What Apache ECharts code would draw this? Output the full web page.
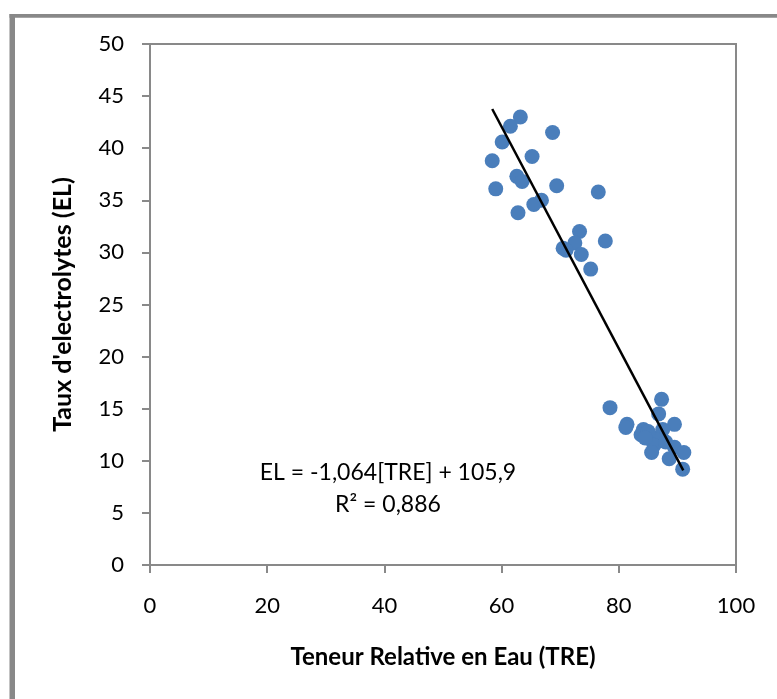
<!DOCTYPE html>
<html>
<head>
<meta charset="utf-8">
<script src="https://cdn.jsdelivr.net/npm/echarts@6/dist/echarts.min.js"></script>
<style>
html,body{margin:0;padding:0;background:#fff;}
#chart{width:777px;height:699px;}
</style>
</head>
<body>
<div id="chart"></div>
<script>
// TRE (x) values
var treValues = [63.2, 61.5, 68.7, 60.1, 58.4, 65.2, 62.6, 63.5, 59.0, 69.4, 76.5, 66.8, 65.5, 62.8, 73.3, 72.5, 77.7, 70.5, 71.0, 73.6, 75.2,
  78.5, 87.3, 86.8, 81.4, 81.2, 89.5, 84.2, 83.8, 85.6, 87.5, 86.5, 85.0, 86.0, 85.6, 89.5, 88.0, 91.1, 88.6, 90.9, 84.5];
// EL (y) values
var elValues = [43.0, 42.1, 41.5, 40.6, 38.8, 39.2, 37.3, 36.8, 36.1, 36.4, 35.8, 35.0, 34.6, 33.8, 32.0, 30.9, 31.1, 30.4, 30.2, 29.8, 28.4,
  15.1, 15.9, 14.5, 13.5, 13.2, 13.5, 13.0, 12.5, 12.3, 13.0, 12.0, 12.8, 11.5, 10.8, 11.3, 11.8, 10.8, 10.2, 9.2, 12.2];
// Regression
var slope = -1.064;
var intercept = 105.9;
var trendRange = [58.4, 91.0];
var equationLines = ["EL = -1,064[TRE] + 105,9", "R\u00b2 = 0,886"];
var xTicks = [0, 20, 40, 60, 80, 100];
var yTicks = [0, 5, 10, 15, 20, 25, 30, 35, 40, 45, 50];
var xTitle = "Teneur Relative en Eau (TRE)";
var yTitle = "Taux d'electrolytes (EL)";

var points = treValues.map(function(x, i){ return [x, elValues[i]]; });
var trend = trendRange.map(function(x){ return [x, slope * x + intercept]; });

var FONT = 'Lato';
var chart = echarts.init(document.getElementById('chart'), null, {renderer: 'canvas'});
chart.setOption({
  animation: false,
  backgroundColor: '#fff',
  grid: {left: 150, top: 44, right: 41, bottom: 134, show: true, borderColor: '#898989', borderWidth: 2, backgroundColor: 'transparent'},
  xAxis: {
    type: 'value', min: xTicks[0], max: xTicks[xTicks.length-1], interval: 20,
    name: xTitle, nameLocation: 'middle', nameGap: 80,
    nameTextStyle: {fontFamily: FONT, fontWeight: 'bold', fontSize: 24, color: '#000'},
    axisLine: {show: true, lineStyle: {color: '#898989', width: 2}},
    axisTick: {show: true, inside: false, length: 8, lineStyle: {color: '#898989', width: 2}},
    axisLabel: {fontFamily: FONT, fontSize: 22, color: '#000', margin: 30},
    splitLine: {show: false}
  },
  yAxis: {
    type: 'value', min: yTicks[0], max: yTicks[yTicks.length-1], interval: 5,
    name: yTitle, nameLocation: 'middle', nameGap: 75, nameRotate: 90,
    nameTextStyle: {fontFamily: FONT, fontWeight: 'bold', fontSize: 25, color: '#000'},
    axisLine: {show: true, lineStyle: {color: '#898989', width: 2}},
    axisTick: {show: true, inside: false, length: 8, lineStyle: {color: '#898989', width: 2}},
    axisLabel: {fontFamily: FONT, fontSize: 22, color: '#000', margin: 26},
    splitLine: {show: false}
  },
  series: [
    {type: 'scatter', data: points, symbol: 'circle', symbolSize: 15,
     itemStyle: {color: '#4A7EBB', opacity: 1}, z: 2},
    {type: 'line', data: trend, showSymbol: false, symbol: 'none',
     lineStyle: {color: '#000', width: 2.5}, z: 3, silent: true}
  ],
  graphic: [
    {type: 'rect', shape: {x: 9.5, y: 14, width: 5.5, height: 700}, style: {fill: '#888'}, silent: true, z: 100},
    {type: 'rect', shape: {x: 9.5, y: 14, width: 800, height: 3.7}, style: {fill: '#888'}, silent: true, z: 100},
    {type: 'text', x: 388, y: 473, style: {text: equationLines[0], fontFamily: FONT, fontSize: 23, fill: '#000', align: 'center', verticalAlign: 'middle'}, z: 100},
    {type: 'text', x: 388, y: 505, style: {text: equationLines[1], fontFamily: FONT, fontSize: 23, fill: '#000', align: 'center', verticalAlign: 'middle'}, z: 100}
  ]
});
</script>
</body>
</html>
